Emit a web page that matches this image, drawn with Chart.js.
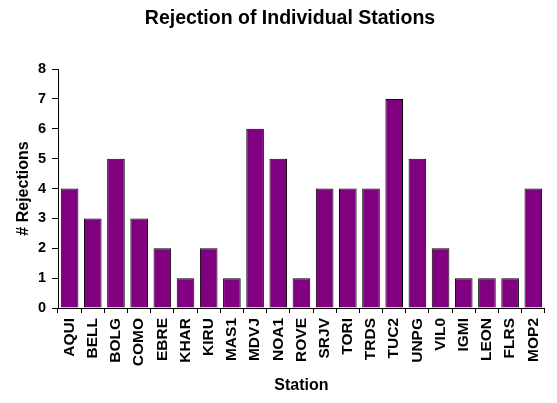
<!DOCTYPE html>
<html>
<head>
<meta charset="utf-8">
<script src="https://cdn.jsdelivr.net/npm/chart.js@4/dist/chart.umd.min.js"></script>
<style>
html,body{margin:0;padding:0;background:#fff;}
#wrap{width:557px;height:403px;position:relative;}
</style>
</head>
<body>
<div id="wrap"><canvas id="c" width="557" height="403"></canvas></div>
<script>
const stations = ["AQUI","BELL","BOLG","COMO","EBRE","KHAR","KIRU","MAS1","MDVJ","NOA1","ROVE","SRJV","TORI","TRDS","TUC2","UNPG","VIL0","IGMI","LEON","FLRS","MOP2"];
const rejections = [4,3,5,3,2,1,2,1,6,5,1,4,4,4,7,5,2,1,1,1,4];
const yTicks = [0,1,2,3,4,5,6,7,8];

const FONT = "'Liberation Sans', Arial, sans-serif";

new Chart(document.getElementById('c'), {
  type: 'bar',
  data: {
    labels: stations,
    datasets: [{
      data: rejections,
      backgroundColor: '#800080',
      borderColor: '#000000',
      borderWidth: 1,
      barPercentage: 0.76,
      categoryPercentage: 1.0
    }]
  },
  options: {
    responsive: false,
    animation: false,
    devicePixelRatio: 1,
    layout: { padding: { left: 27, right: 4, top: 0, bottom: 0 } },
    plugins: {
      legend: { display: false },
      tooltip: { enabled: false },
      title: {
        display: true,
        text: 'Rejection of Individual Stations',
        color: '#000',
        font: { family: FONT, size: 19.5, weight: 'bold' },
        padding: { top: 7.3, bottom: 38.3 }
      }
    },
    scales: {
      x: {
        offset: true,
        afterFit: (s) => { s.height = 95; },
        grid: { display: true, drawOnChartArea: false, offset: true, color: '#000', tickLength: 5, lineWidth: 1 },
        border: { display: true, color: '#000', width: 1 },
        ticks: { color: '#000', font: { family: FONT, size: 15.5, weight: 'bold' }, maxRotation: 90, minRotation: 90, autoSkip: false, padding: 5 },
        title: { display: true, text: 'Station', color: '#000', font: { family: FONT, size: 16, weight: 'bold' }, padding: { top: 0, bottom: 7.4 } }
      },
      y: {
        min: 0, max: 8,
        afterFit: (s) => { s.width = 31; },
        afterBuildTicks: (s) => { s.ticks = yTicks.map(v => ({ value: v })); },
        grid: { display: true, drawOnChartArea: false, color: '#000', tickLength: 6, lineWidth: 1 },
        border: { display: true, color: '#000', width: 1 },
        ticks: { color: '#000', font: { family: FONT, size: 14.5, weight: 'bold' }, padding: 6 },
        title: { display: true, text: '# Rejections', color: '#000', font: { family: FONT, size: 16, weight: 'bold' }, padding: { top: -12.6, bottom: 0 } }
      }
    }
  }
});
</script>
</body>
</html>
